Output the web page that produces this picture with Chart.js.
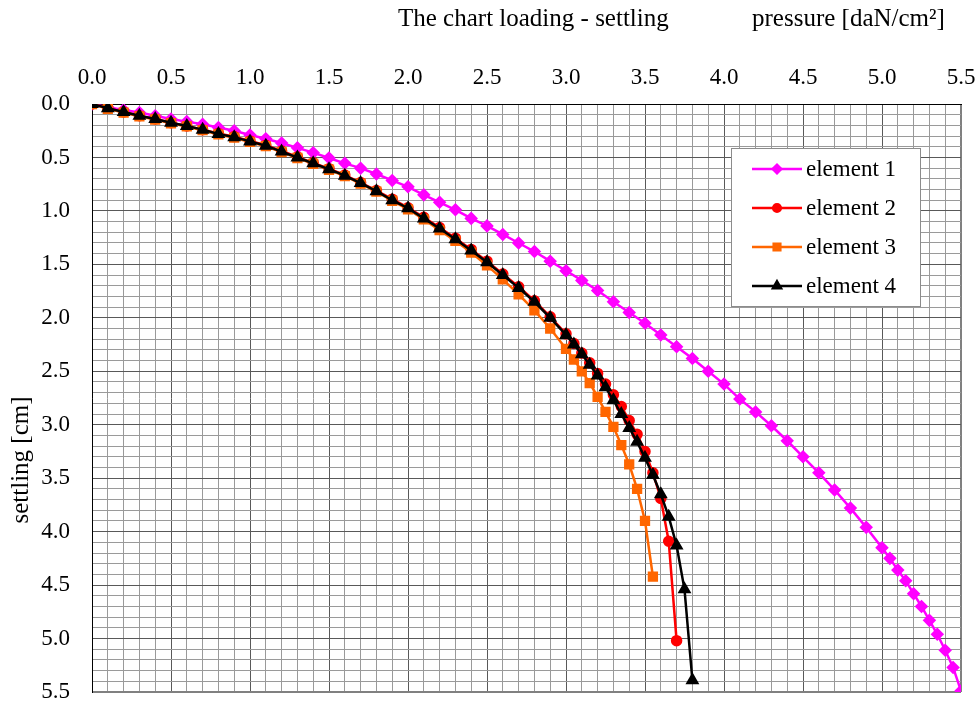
<!DOCTYPE html>
<html>
<head>
<meta charset="utf-8">
<script src="https://cdn.jsdelivr.net/npm/chart.js@4.4.0/dist/chart.umd.min.js"></script>
<style>
  html, body { margin: 0; padding: 0; background: #fff; overflow: hidden; }
</style>
</head>
<body>
<canvas id="myChart" width="979" height="704"></canvas>
<script>
// --- DATA ---
const seriesNames = ['element 1', 'element 2', 'element 3', 'element 4'];
const axisTicks = [0.0, 0.5, 1.0, 1.5, 2.0, 2.5, 3.0, 3.5, 4.0, 4.5, 5.0, 5.5];

// pressure [daN/cm2] / settling [cm]
const e1Pressure = [0.0, 0.1, 0.2, 0.3, 0.4, 0.5, 0.6, 0.7, 0.8, 0.9, 1.0,
    1.1, 1.2, 1.3, 1.4, 1.5, 1.6, 1.7, 1.8, 1.9, 2.0,
    2.1, 2.2, 2.3, 2.4, 2.5, 2.6, 2.7, 2.8, 2.9, 3.0,
    3.1, 3.2, 3.3, 3.4, 3.5, 3.6, 3.7, 3.8, 3.9, 4.0,
    4.1, 4.2, 4.3, 4.4, 4.5, 4.6, 4.7, 4.8, 4.9, 5.0,
    5.05, 5.1, 5.15, 5.2, 5.25, 5.3, 5.35, 5.4, 5.45, 5.5];
const e1Settling = [0, 0.03, 0.055, 0.08, 0.11, 0.14, 0.165, 0.19, 0.22, 0.25, 0.29,
    0.325, 0.365, 0.41, 0.455, 0.505, 0.555, 0.60, 0.655, 0.715, 0.775,
    0.85, 0.92, 0.99, 1.07, 1.14, 1.22, 1.30, 1.38, 1.47, 1.56,
    1.65, 1.745, 1.85, 1.95, 2.05, 2.16, 2.27, 2.38, 2.50, 2.62,
    2.76, 2.88, 3.01, 3.15, 3.30, 3.45, 3.61, 3.78, 3.96, 4.15,
    4.25, 4.36, 4.46, 4.58, 4.70, 4.83, 4.96, 5.11, 5.27, 5.49];

const e2Pressure = [0.0, 0.1, 0.2, 0.3, 0.4, 0.5, 0.6, 0.7, 0.8, 0.9, 1.0,
    1.1, 1.2, 1.3, 1.4, 1.5, 1.6, 1.7, 1.8, 1.9, 2.0,
    2.1, 2.2, 2.3, 2.4, 2.5, 2.6, 2.7, 2.8, 2.9, 3.0,
    3.05, 3.1, 3.15, 3.2, 3.25, 3.3, 3.35, 3.4, 3.45, 3.5, 3.55, 3.6, 3.65, 3.7];
const e2Settling = [0, 0.04, 0.075, 0.11, 0.14, 0.175, 0.205, 0.24, 0.275, 0.305, 0.345,
    0.385, 0.44, 0.495, 0.55, 0.605, 0.665, 0.735, 0.81, 0.89, 0.97,
    1.06, 1.155, 1.255, 1.36, 1.47, 1.59, 1.71, 1.84, 1.99, 2.15,
    2.24, 2.33, 2.42, 2.52, 2.62, 2.72, 2.83, 2.96, 3.09, 3.25, 3.45, 3.69, 4.09, 5.02];

const e3Pressure = [0.0, 0.1, 0.2, 0.3, 0.4, 0.5, 0.6, 0.7, 0.8, 0.9, 1.0,
    1.1, 1.2, 1.3, 1.4, 1.5, 1.6, 1.7, 1.8, 1.9, 2.0,
    2.1, 2.2, 2.3, 2.4, 2.5, 2.6, 2.7, 2.8, 2.9, 3.0,
    3.05, 3.1, 3.15, 3.2, 3.25, 3.3, 3.35, 3.4, 3.45, 3.5, 3.55];
const e3Settling = [0, 0.045, 0.08, 0.115, 0.145, 0.18, 0.21, 0.245, 0.285, 0.315, 0.355,
    0.395, 0.45, 0.505, 0.56, 0.615, 0.675, 0.745, 0.82, 0.905, 0.985,
    1.08, 1.18, 1.28, 1.39, 1.51, 1.64, 1.78, 1.93, 2.10, 2.29,
    2.39, 2.50, 2.61, 2.74, 2.88, 3.02, 3.19, 3.37, 3.60, 3.90, 4.42];

const e4Pressure = [0.0, 0.1, 0.2, 0.3, 0.4, 0.5, 0.6, 0.7, 0.8, 0.9, 1.0,
    1.1, 1.2, 1.3, 1.4, 1.5, 1.6, 1.7, 1.8, 1.9, 2.0,
    2.1, 2.2, 2.3, 2.4, 2.5, 2.6, 2.7, 2.8, 2.9, 3.0,
    3.05, 3.1, 3.15, 3.2, 3.25, 3.3, 3.35, 3.4, 3.45, 3.5, 3.55, 3.6, 3.65, 3.7, 3.75, 3.8];
const e4Settling = [0, 0.04, 0.075, 0.11, 0.14, 0.175, 0.205, 0.24, 0.28, 0.31, 0.35,
    0.39, 0.445, 0.50, 0.555, 0.61, 0.67, 0.74, 0.815, 0.90, 0.975,
    1.07, 1.165, 1.265, 1.37, 1.48, 1.60, 1.72, 1.85, 2.0, 2.16,
    2.25, 2.34, 2.44, 2.54, 2.65, 2.77, 2.90, 3.03, 3.16, 3.31, 3.47, 3.65, 3.86, 4.13, 4.54, 5.39];

const FONT = '"Liberation Serif", "Times New Roman", serif';

// pair x/y arrays into points
function toPoints(xs, ys) {
    return xs.map((x, i) => ({ x: x, y: ys[i] }));
}

const isMajor = v => axisTicks.some(t => Math.abs(t - v) < 1e-6);
const isEdge = v => Math.abs(v - 5.5) < 1e-6;

const gridColor = c => (c.tick && isEdge(c.tick.value)) ? '#808080' : (c.tick && isMajor(c.tick.value) ? '#595959' : '#9a9a9a');
const gridWidth = c => (c.tick && isEdge(c.tick.value)) ? 2 : 1;

// --- PLUGINS ---
// heading text above the top axis + vertical axis title (placed like the Excel sheet)
const heading = {
    id: 'heading',
    afterDraw(chart) {
        const ctx = chart.ctx;
        ctx.save();
        ctx.fillStyle = '#000';
        ctx.font = '25px ' + FONT;
        ctx.textBaseline = 'middle';
        ctx.textAlign = 'left';
        ctx.fillText('The chart loading - settling', 398, 19);
        ctx.fillText('pressure [daN/cm²]', 752, 19);

        ctx.translate(21, 460);
        ctx.rotate(-Math.PI / 2);
        ctx.textAlign = 'center';
        ctx.fillText('settling [cm]', 0, 0);
        ctx.restore();
    }
};

// legend box inside the plot, like the Excel one
const legendBox = {
    id: 'legendBox',
    afterDraw(chart) {
        const ctx = chart.ctx;
        ctx.save();
        ctx.fillStyle = '#fff';
        ctx.strokeStyle = '#8c8c8c';
        ctx.lineWidth = 1;
        ctx.fillRect(731.5, 148.5, 189, 158);
        ctx.strokeRect(731.5, 148.5, 189, 158);
        chart.data.datasets.forEach((ds, i) => {
            const y = 169 + i * 39;
            ctx.strokeStyle = ds.borderColor;
            ctx.lineWidth = ds.borderWidth;
            ctx.beginPath();
            ctx.moveTo(752, y);
            ctx.lineTo(802, y);
            ctx.stroke();
            ctx.fillStyle = ds.pointBackgroundColor;
            ctx.strokeStyle = ds.pointBorderColor;
            Chart.helpers.drawPoint(ctx, { pointStyle: ds.pointStyle, radius: ds.pointRadius * 0.85, borderWidth: 1, rotation: 0 }, 777, y);
            ctx.fillStyle = '#000';
            ctx.font = '23px ' + FONT;
            ctx.textBaseline = 'middle';
            ctx.textAlign = 'left';
            ctx.fillText(ds.label, 806, y + 1);
        });
        ctx.restore();
    }
};

// --- CHART ---
const ctx = document.getElementById('myChart').getContext('2d');
const chart = new Chart(ctx, {
    type: 'scatter',
    data: {
        datasets: [{
            label: seriesNames[0],
            data: toPoints(e1Pressure, e1Settling),
            borderColor: '#ff00ff',
            pointBackgroundColor: '#ff00ff',
            pointBorderColor: '#ff00ff',
            pointStyle: 'rectRot',
            pointRadius: 5,
            borderWidth: 2.5,
            order: 4
        }, {
            label: seriesNames[1],
            data: toPoints(e2Pressure, e2Settling),
            borderColor: '#ff0000',
            pointBackgroundColor: '#ff0000',
            pointBorderColor: '#ff0000',
            pointStyle: 'circle',
            pointRadius: 4.5,
            borderWidth: 2.5,
            order: 3
        }, {
            label: seriesNames[2],
            data: toPoints(e3Pressure, e3Settling),
            borderColor: '#ff6600',
            pointBackgroundColor: '#ff6600',
            pointBorderColor: '#ff6600',
            pointStyle: 'rect',
            pointRadius: 5.5,
            borderWidth: 2.5,
            order: 2
        }, {
            label: seriesNames[3],
            data: toPoints(e4Pressure, e4Settling),
            borderColor: '#000000',
            pointBackgroundColor: '#000000',
            pointBorderColor: '#000000',
            pointStyle: 'triangle',
            pointRadius: 5.5,
            borderWidth: 2.5,
            order: 1
        }]
    },
    options: {
        responsive: false,
        animation: false,
        devicePixelRatio: 1,
        showLine: true,
        events: [],
        layout: { padding: { left: 0, top: 0, right: 18, bottom: 12 } },
        elements: { line: { tension: 0 } },
        plugins: {
            legend: { display: false },
            tooltip: { enabled: false }
        },
        scales: {
            x: {
                type: 'linear',
                position: 'top',
                min: 0,
                max: 5.5,
                // fixed header height, no extra side padding from end labels
                afterFit: s => { s.height = 104; s.paddingLeft = 0; s.paddingRight = 0; },
                ticks: {
                    stepSize: 0.1,
                    autoSkip: false,
                    maxRotation: 0,
                    padding: 15,
                    color: '#000',
                    font: { family: FONT, size: 23, lineHeight: 1 },
                    callback: v => isMajor(v) ? v.toFixed(1) : ''
                },
                grid: { drawTicks: false, color: gridColor, lineWidth: gridWidth },
                border: { color: '#000', width: 1 }
            },
            y: {
                type: 'linear',
                position: 'left',
                reverse: true,
                min: 0,
                max: 5.5,
                afterFit: s => { s.width = 92; s.paddingTop = 0; s.paddingBottom = 0; },
                ticks: {
                    stepSize: 0.1,
                    autoSkip: false,
                    padding: 22,
                    color: '#000',
                    font: { family: FONT, size: 23, lineHeight: 1 },
                    callback: v => isMajor(v) ? v.toFixed(1) : ''
                },
                grid: { drawTicks: false, color: gridColor, lineWidth: gridWidth },
                border: { color: '#000', width: 1 }
            }
        }
    },
    plugins: [heading, legendBox]
});
</script>
</body>
</html>
